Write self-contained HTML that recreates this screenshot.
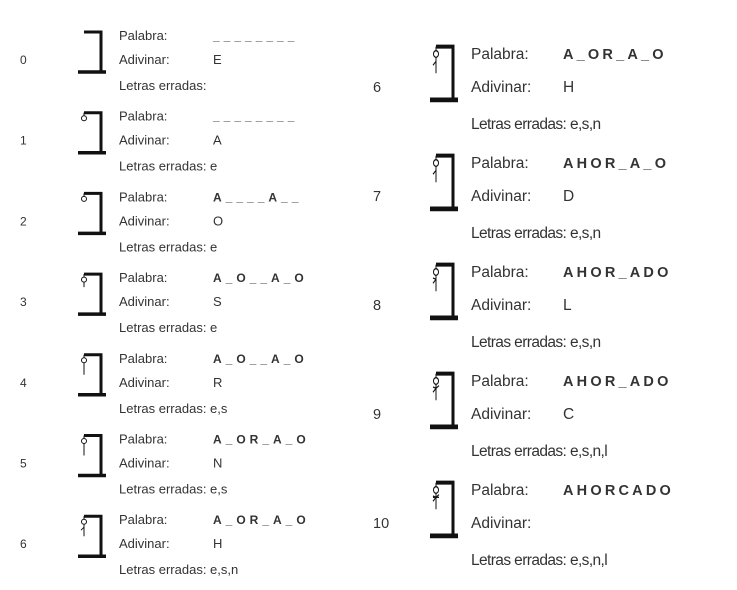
<!DOCTYPE html>
<html><head><meta charset="utf-8"><style>
body{margin:0;background:#fff;width:737px;height:590px;overflow:hidden;font-family:"Liberation Sans",sans-serif;color:#333}
svg{position:absolute;left:0;top:0}
</style></head><body>
<svg id="s" width="737" height="590"></svg>
<script>
const stepNums=[0,1,2,3,4,5,6,6,7,8,9,10];
const words=["________","________","A____A__","A_O__A_O","A_O__A_O","A_OR_A_O","A_OR_A_O","A_OR_A_O","AHOR_A_O","AHOR_ADO","AHOR_ADO","AHORCADO"];
const guesses=["E","A","O","S","R","N","H","H","D","L","C",""];
const wrong=["","e","e","e","e,s","e,s","e,s,n","e,s,n","e,s,n","e,s,n","e,s,n,l","e,s,n,l"];
const stages=[0,1,2,3,4,4,5,5,5,6,7,8];
const NS="http://www.w3.org/2000/svg",S=document.getElementById('s');
function el(t,a,p){const e=document.createElementNS(NS,t);for(const k in a)e.setAttribute(k,a[k]);(p||S).appendChild(e);return e}
function txt(x,y,s,size,bold,ls,name){const t=el('text',{x:x,y:y,'font-size':size,fill:'#333','font-family':'"Liberation Sans",sans-serif'});
if(bold)t.setAttribute('font-weight','bold');if(ls)t.setAttribute('letter-spacing',ls);t.textContent=s;

return t}
for(let i=0;i<words.length;i++){
  const left=i<7,j=left?i:i-7;
  const g=el('g',{});
  
  
  let top,lx,vx,nx,fs,sx,sy,gx,gy,dy1,dy2,wfs,wls;
  if(left){top=35+j*80.7;lx=119;vx=213;nx=20;fs=13;sx=1;sy=1;gx=78;gy=top-5;dy1=24;dy2=50;wfs=12;wls=4}
  else{top=54+j*109;lx=471;vx=563;nx=373;fs=15.5;sx=1;sy=1.33;gx=430;gy=top-10;dy1=33;dy2=70;wfs=14.5;wls=3.2}
  g.appendChild(txt(nx,top+dy1+5,String(stepNums[i]),fs-1,false,0,'step-number'));
  const gal=el('g',{transform:`translate(${gx},${gy}) scale(${sx},${sy})`,stroke:'#111',fill:'none'},g);
  
  
  el('path',{d:'M6 2 H23 V42','stroke-width':3},gal);
  el('path',{d:'M0 42 H28','stroke-width':3.5},gal);
  const st=stages[i];
  if(st>=1)el('path',{d:'M6 2 V5','stroke-width':1},gal);
  if(st>=1)el('circle',{cx:6,cy:7.5,r:2.5,'stroke-width':1},gal);
  if(st>=3)el('path',{d:'M6 10 V'+(st>=4?22:15),'stroke-width':1},gal);
  if(st>=5)el('path',{d:'M6 13 L3 16','stroke-width':1},gal);
  if(st>=6)el('path',{d:'M6 13 L3 12','stroke-width':1},gal);
  if(st>=7)el('path',{d:'M6 13 L9 11','stroke-width':1},gal);
  if(st>=8)el('path',{d:'M3 13 H9','stroke-width':1},gal);
  g.appendChild(txt(lx,top+5,'Palabra:',fs,false,0,'palabra-label'));
  g.appendChild(txt(vx,top+5,words[i],wfs,true,wls,'palabra-value'));
  g.appendChild(txt(lx,top+dy1+5,'Adivinar:',fs,false,0,'adivinar-label'));
  g.appendChild(txt(vx,top+dy1+5,guesses[i],fs,false,0,'adivinar-value'));
  g.appendChild(txt(lx,top+dy2+5,'Letras erradas: '+wrong[i],fs,false,left?0:-0.6,'letras-erradas'));
}
</script>
</body></html>
